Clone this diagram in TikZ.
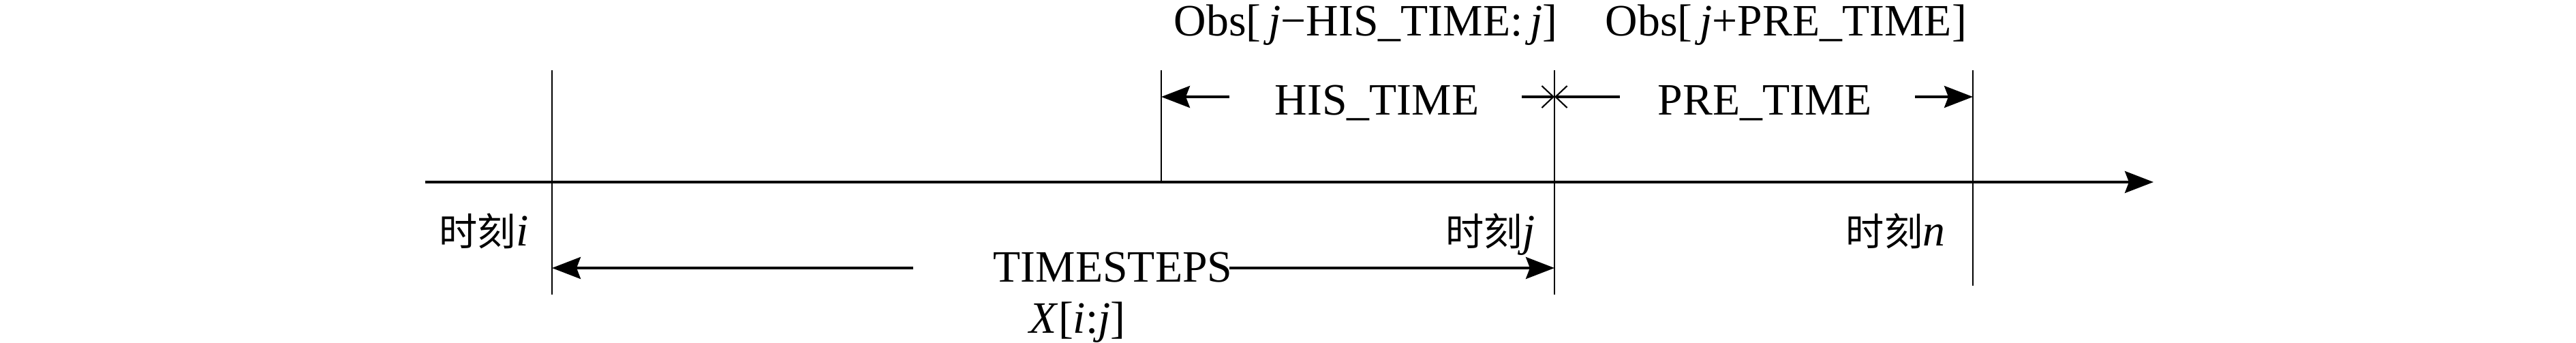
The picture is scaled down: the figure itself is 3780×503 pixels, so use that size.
\documentclass[tikz,border=0pt]{standalone}
\usepackage{fontspec}
\setmainfont{Liberation Serif}
\newfontfamily\cjk{Noto Sans CJK SC}
\usepackage{tikz}
\usetikzlibrary{arrows.meta,positioning}

\begin{document}
\begin{tikzpicture}[
    x=0.01cm, y=-0.01cm,
    every node/.style={inner sep=0pt, font=\fontsize{18.7}{22}\selectfont},
    axis/.style={draw, line width=1pt, -{Stealth[length=0.42cm, width=0.32cm, inset=0.06cm]}},
    tick/.style={draw, line width=0.7pt},
    span/.style={draw, line width=1pt, -{Stealth[length=0.42cm, width=0.32cm, inset=0.06cm]}},
    meet/.style={draw, line width=1pt, -{Straight Barb[length=0.17cm, width=0.32cm, line width=0.6pt]}},
    label/.style={anchor=base west},
    stamp/.style={anchor=base east}
]
    \useasboundingbox (0,0) rectangle (3780,503);

    % time axis
    \coordinate (ax0) at (624,267);
    \coordinate (ax1) at (3160,267);
    \path [axis] (ax0) -- (ax1);

    % moments on the axis
    \coordinate (i-top) at (810,103);  \coordinate (i-bot) at (810,432);
    \coordinate (h-top) at (1704,103); \coordinate (h-bot) at (1704,267);
    \coordinate (j-top) at (2281,103); \coordinate (j-bot) at (2281,432);
    \coordinate (n-top) at (2895,103); \coordinate (n-bot) at (2895,419);
    \path [tick] (i-top) -- (i-bot);
    \path [tick] (h-top) -- (h-bot);
    \path [tick] (j-top) -- (j-bot);
    \path [tick] (n-top) -- (n-bot);

    \node [stamp] (mi) at (776,360) {{\cjk\fontsize{16}{18}\selectfont 时刻}\textit{i}};
    \node [stamp] (mj) at (2253,360) {{\cjk\fontsize{16}{18}\selectfont 时刻}\textit{j}};
    \node [stamp] (mn) at (2855,360) {{\cjk\fontsize{16}{18}\selectfont 时刻}\textit{n}};

    % observation windows
    \node [label] (obsh) at (1722,52) {Obs[\,\textit{j}−HIS\_TIME:\,\textit{j}]};
    \node [label] (obsp) at (2355,52) {Obs[\,\textit{j}+PRE\_TIME]};

    \node [label] (his) at (1870,168) {HIS\_TIME};
    \node [label] (pre) at (2432,168) {PRE\_TIME};
    \coordinate (his-l) at (1804,142);
    \coordinate (his-r) at (2233,142);
    \coordinate (pre-l) at (2377,142);
    \coordinate (pre-r) at (2810,142);
    \path [span] (his-l) -- (h-top |- his-l);
    \path [meet] (his-r) -- (j-top |- his-r);
    \path [meet] (pre-l) -- (j-top |- pre-l);
    \path [span] (pre-r) -- (n-top |- pre-r);

    % input steps
    \node [label] (steps) at (1457,413) {TIMESTEPS};
    \node [label] (xin) at (1510,488) {\textit{X}[\textit{i}:\textit{j}]};
    \coordinate (steps-l) at (1340,393);
    \coordinate (steps-r) at (1804,393);
    \path [span] (steps-l) -- (i-top |- steps-l);
    \path [span] (steps-r) -- (j-top |- steps-r);
\end{tikzpicture}
\end{document}
